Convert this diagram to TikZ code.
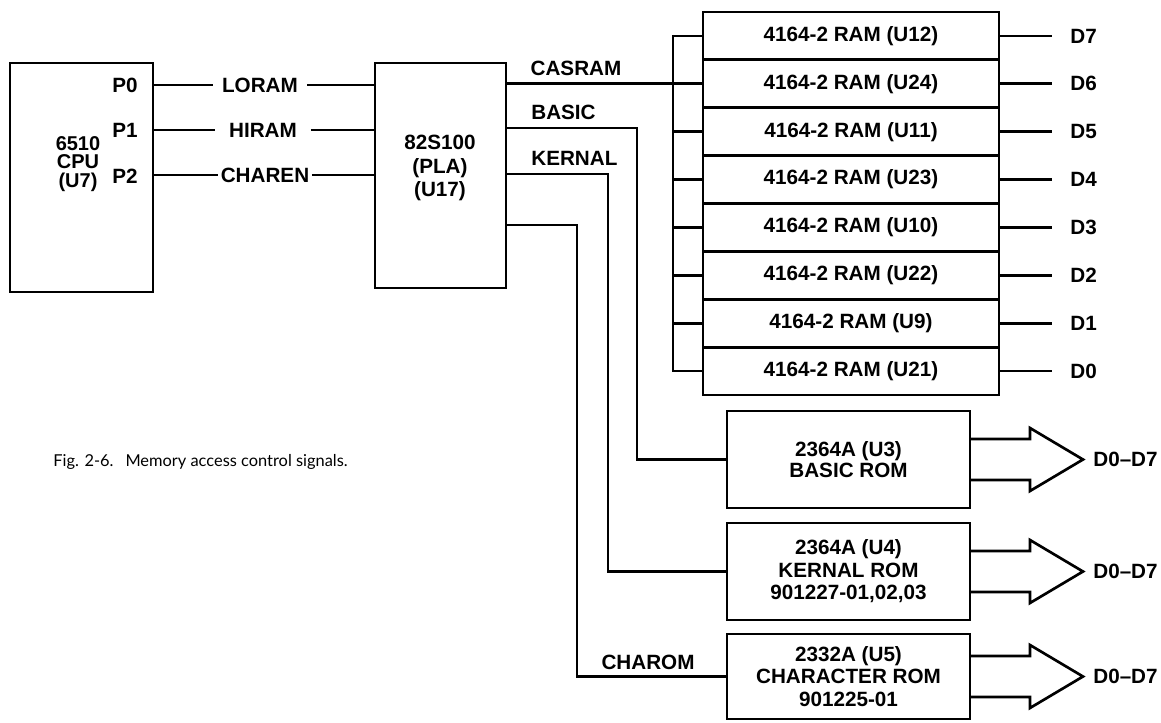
\documentclass[tikz,border=0pt]{standalone}
\usepackage{fontspec}
\setmainfont{Liberation Sans}
\newfontfamily\capfont{Lato}
\usetikzlibrary{calc}
\begin{document}
\begin{tikzpicture}[x=0.75pt,y=-0.75pt,line width=2pt,
  box/.style={draw,line width=2.2pt,inner sep=0pt,outer sep=0pt,align=center,
    font=\bfseries\fontsize{15.5}{16.9}\selectfont},
  sz/.style 2 args={minimum width={#1*0.75pt},minimum height={#2*0.75pt}},
  lbl/.style={inner sep=0pt,font=\bfseries\fontsize{15.5}{16.5}\selectfont},
  wire/.style={line width=2pt},
  bus/.style={line width=2pt,line join=miter}]
\useasboundingbox (0,0) rectangle (1161,722);

% CPU and PLA
\node[box,sz={143}{229}] (cpu) at (81.5,177.5) {};
\node[inner sep=0pt,align=center,font=\bfseries\fontsize{15}{13.6}\selectfont] (cputxt) at (78,164) {6510\\CPU\\(U7)};
\node[lbl,anchor=east] (p0) at (139,85) {P0};
\node[lbl,anchor=east] (p1) at (139,130) {P1};
\node[lbl,anchor=east] (p2) at (139,176) {P2};

\node[box,sz={131}{225}] (pla) at (440.5,175.5) {};
\node[inner sep=0pt,align=center,font=\bfseries\fontsize{15.5}{17.6}\selectfont] (platxt) at (440,168) {82S100\\(PLA)\\(U17)};

\coordinate (y0) at (0,85);
\coordinate (y1) at (0,130);
\coordinate (y2) at (0,175);
\coordinate (c0) at (cpu.east |- y0);
\coordinate (c1) at (cpu.east |- y1);
\coordinate (c2) at (cpu.east |- y2);
\node[lbl,inner xsep=6pt] (loram) at (260,85) {LORAM};
\node[lbl,inner xsep=9.5pt] (hiram) at (263,130) {HIRAM};
\node[lbl,inner xsep=1pt] (charen) at (265,175) {CHAREN};
\draw[wire] (c0) -- (loram.west);
\draw[wire] (loram.east) -- (c0 -| pla.west);
\draw[wire] (c1) -- (hiram.west);
\draw[wire] (hiram.east) -- (c1 -| pla.west);
\draw[wire] (c2) -- (charen.west);
\draw[wire] (charen.east) -- (c2 -| pla.west);

% RAM stack
\foreach \u/\d [count=\i from 0] in {U12/D7,U24/D6,U11/D5,U23/D4,U10/D3,U22/D2,U9/D1,U21/D0} {
  \pgfmathsetmacro\rmid{12+47.875*\i+23.9375}
  \node[box,sz={296}{47.875}] (ram\i) at (851,\rmid) {4164-2 RAM (\u)};
  \node[lbl,anchor=west] (d\i) at (1069,\rmid) {\d};
  \draw[wire,shorten >=12.5pt] (ram\i.east) -- (d\i.west);
  \coordinate (b\i) at (673,\rmid);
  \draw[wire] (b\i) -- (ram\i.west);
}
\draw[bus] ($(b0)+(0,-1)$) -- ($(b7)+(0,1)$);

% PLA outputs
\node[lbl] (casram) at (576,68) {CASRAM};
\node[lbl,anchor=west] (basiclbl) at (530,112) {BASIC};
\node[lbl,anchor=west] (kernallbl) at (530,158) {KERNAL};
\draw[wire] (pla.east |- ram1.west) -- (ram1.west);

% ROMs
\node[box,sz={243}{97},font=\bfseries\fontsize{15.5}{15.5}\selectfont] (basic) at (848.5,459.5) {2364A (U3)\\BASIC ROM};
\node[box,sz={243}{97}] (kernal) at (848.5,571.5) {2364A (U4)\\KERNAL ROM\\901227-01,02,03};
\node[box,sz={243}{85}] (charrom) at (848.5,676.5) {\raisebox{-3pt}{\parbox{150pt}{\centering 2332A (U5)\\CHARACTER ROM\\901225-01}}};
\node[lbl] (charomlbl) at (648,662) {CHAROM};

\draw[bus] ($(pla.north east)+(0,65)$) -| ($(basic.west)+(-90,0)$) -- (basic.west);
\draw[bus] ($(pla.north east)+(0,111)$) -| ($(kernal.west)+(-119,0)$) -- (kernal.west);
\draw[bus] ($(pla.north east)+(0,162)$) -| ($(charrom.west)+(-150,0)$) -- (charrom.west);

% data bus arrows
\foreach \r/\n in {basic/da,kernal/db,charrom/dc} {
  \draw[bus] ($(\r.east)+(0,-20.5)$) -- ($(\r.east)+(60,-20.5)$) -- ($(\r.east)+(60,-31.5)$)
    -- ($(\r.east)+(113,0)$) -- ($(\r.east)+(60,31.5)$) -- ($(\r.east)+(60,20.5)$) -- ($(\r.east)+(0,20.5)$);
  \node[lbl,anchor=west] (\n) at ($(\r.east)+(122,0)$) {D0\textendash D7};
}

% caption
\node[anchor=west,inner sep=0pt,font=\capfont\fontsize{12.3}{14}\selectfont] (caption) at (52,462) {Fig. 2-6.\hspace{9pt}Memory access control signals.};
\end{tikzpicture}
\end{document}
